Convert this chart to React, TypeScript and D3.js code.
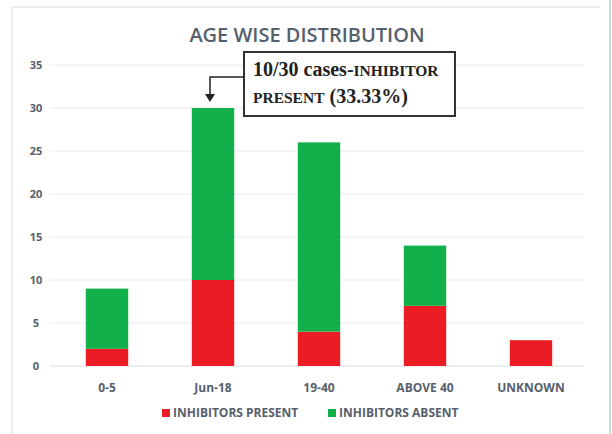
import * as d3 from 'd3';

const categories = ['0-5', 'Jun-18', '19-40', 'ABOVE 40', 'UNKNOWN'];
const present = [2, 10, 4, 7, 3];
const absent = [7, 20, 22, 7, 0];
const yTicks = [0, 5, 10, 15, 20, 25, 30, 35];
const seriesNames = ['INHIBITORS PRESENT', 'INHIBITORS ABSENT'];

const RED = '#ec1c24';
const GREEN = '#12b04b';
const TXT = '#56606c';

export default function App() {
  const W = 612, H = 434;
  const m = { left: 54, right: 28, top: 65, bottom: 68 };

  const x = d3.scaleBand<string>().domain(categories).range([m.left, W - m.right]).paddingInner(0.6).paddingOuter(0.3);
  const y = d3.scaleLinear().domain([0, 35]).range([H - m.bottom, m.top]);

  const stacked = d3.stack<number>().keys(['p', 'a'])
    .value((i, k) => (k === 'p' ? present[i] : absent[i]))(d3.range(categories.length));

  const colors = [RED, GREEN];
  const jx = (x('Jun-18') ?? 0) + x.bandwidth() / 2;
  const jTop = y(present[1] + absent[1]);

  return (
    <svg width={W} height={H} style={{ position: 'absolute', left: 0, top: 0, background: '#fff' }}>
      <line x1={12} x2={12} y1={7} y2={H} stroke="#eceef2" strokeWidth={2} />
      <line x1={12} x2={600} y1={7} y2={7} stroke="#eceef2" strokeWidth={2} />
      <line x1={610} x2={610} y1={0} y2={H} stroke="#c9dcea" strokeWidth={2} />

      <text x={307} y={42} textAnchor="middle" fontFamily="Open Sans" fontWeight={600} fontSize={20} fill={TXT}>
        AGE WISE DISTRIBUTION
      </text>

      {yTicks.map(t => (
        <g key={t}>
          <line x1={m.left - 4} x2={W - m.right} y1={y(t)} y2={y(t)} stroke={t === 0 ? '#d8dde3' : '#e6ebf0'} strokeWidth={1} />
          <text x={36} y={y(t) + 4} textAnchor="middle" fontFamily="Open Sans" fontWeight={700} fontSize={11} fill={TXT}>
            {t}
          </text>
        </g>
      ))}

      {stacked.map((s, si) =>
        s.map((d, i) => (
          <rect key={`${si}-${i}`} x={x(categories[i])} width={x.bandwidth()}
            y={y(d[1])} height={y(d[0]) - y(d[1])} fill={colors[si]} />
        ))
      )}

      {categories.map(c => (
        <text key={c} x={(x(c) ?? 0) + x.bandwidth() / 2} y={392} textAnchor="middle"
          fontFamily="Open Sans" fontWeight={700} fontSize={12} fill={TXT}>
          {c}
        </text>
      ))}

      {seriesNames.map((n, i) => {
        const lx = i === 0 ? 162 : 328;
        return (
          <g key={n}>
            <rect x={lx} y={409} width={8} height={8} fill={colors[i]} />
            <text x={lx + 11} y={417} fontFamily="Open Sans" fontWeight={700} fontSize={12} fill={TXT}>{n}</text>
          </g>
        );
      })}

      {/* callout */}
      <rect x={244} y={52} width={211} height={64} fill="#fff" stroke="#333" strokeWidth={2} />
      <path d={`M244,77 H${jx - 3} V${jTop - 12}`} fill="none" stroke="#222" strokeWidth={1.5} />
      <path d={`M${jx - 8},${jTop - 14} L${jx + 2},${jTop - 14} L${jx - 3},${jTop - 6} Z`} fill="#222" />
      <text x={253} y={76} fontFamily="Liberation Serif" fontWeight={700} fontSize={20} fill="#222">
        10/30 cases-<tspan fontSize={15.5}>INHIBITOR</tspan>
      </text>
      <text x={253} y={103} fontFamily="Liberation Serif" fontWeight={700} fontSize={20} fill="#222">
        <tspan fontSize={15.5}>PRESENT</tspan> (33.33%)
      </text>
    </svg>
  );
}
